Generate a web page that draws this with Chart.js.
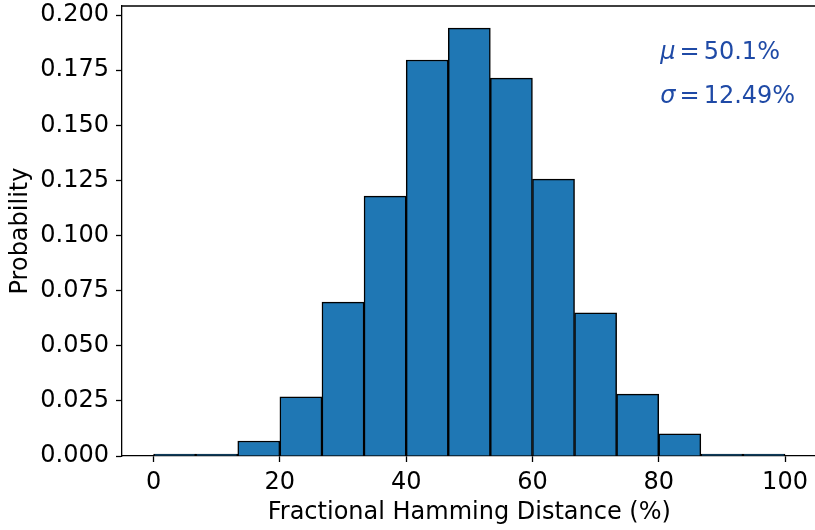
<!DOCTYPE html>
<html>
<head>
<meta charset="utf-8">
<script src="https://cdn.jsdelivr.net/npm/chart.js@4/dist/chart.umd.min.js"></script>
<style>
  html, body { margin: 0; padding: 0; background: #fff; overflow: hidden; }
  #wrap { width: 818px; height: 530px; }
</style>
</head>
<body>
<div id="wrap"><canvas id="hist" width="818" height="530"></canvas></div>
<script>
const binEdges = [0, 6.67, 13.33, 20, 26.67, 33.33, 40, 46.67, 53.33, 60, 66.67, 73.33, 80, 86.67, 93.33, 100]
const probabilities = [0.0003, 0.0008, 0.0068, 0.0268, 0.0698, 0.1179, 0.1796, 0.1941, 0.1714, 0.1256, 0.0649, 0.0281, 0.0100, 0.0009, 0.0002]
const xTicks = [0, 20, 40, 60, 80, 100]
const yTicks = [0, 0.025, 0.05, 0.075, 0.1, 0.125, 0.15, 0.175, 0.2]
const statsLines = [['\u03bc', '50.1%'], ['\u03c3', '12.49%']]

const FONT = 'DejaVu Sans'
const FONT_SIZE = 24
const textBlue = '#1f4aa6'

const points = probabilities.map((p, i) => ({ x: (binEdges[i] + binEdges[i + 1]) / 2, y: p }))

// frame (top + right spines) and mu/sigma annotation
const extras = {
    id: 'extras',
    afterDraw(chart) {
        const { ctx, chartArea: a } = chart
        ctx.save()
        ctx.strokeStyle = '#000'
        ctx.lineWidth = 1.3
        ctx.beginPath()
        ctx.moveTo(a.left, a.top)
        ctx.lineTo(a.right, a.top)
        ctx.lineTo(a.right, a.bottom)
        ctx.stroke()

        ctx.fillStyle = textBlue
        ctx.textBaseline = 'alphabetic'
        const x0 = a.left + 0.775 * (a.right - a.left)
        const baselines = [0.882, 0.784]
        statsLines.forEach((line, i) => {
            const y = a.bottom - baselines[i] * (a.bottom - a.top)
            ctx.font = 'italic ' + FONT_SIZE + 'px "' + FONT + '"'
            ctx.fillText(line[0], x0, y)
            let x = x0 + ctx.measureText(line[0]).width + 4
            ctx.font = FONT_SIZE + 'px "' + FONT + '"'
            ctx.fillText('=', x, y)
            x += ctx.measureText('=').width + 4
            ctx.fillText(line[1], x, y)
        })
        ctx.restore()
    }
}

const tickFont = { family: FONT, size: FONT_SIZE }

function noLabelPadding(s) {
    s.paddingTop = 0
    s.paddingBottom = 0
    s.paddingLeft = 0
    s.paddingRight = 0
}

const chart = new Chart(document.getElementById('hist'), {
    type: 'bar',
    data: {
        datasets: [{
            data: points,
            backgroundColor: '#1f77b4',
            borderColor: '#000',
            borderWidth: 1.5,
            minBarLength: 2,
            barPercentage: 1,
            categoryPercentage: 1
        }]
    },
    plugins: [extras],
    options: {
        responsive: false,
        animation: false,
        layout: { padding: { top: 6, right: 1.4, left: 0, bottom: 0 } },
        plugins: {
            legend: { display: false },
            tooltip: { enabled: false }
        },
        scales: {
            x: {
                type: 'linear',
                min: -5,
                max: 105,
                offset: false,
                afterBuildTicks: axis => { axis.ticks = xTicks.map(v => ({ value: v })) },
                afterFit: s => { s.height = 74; noLabelPadding(s) },
                grid: { offset: false, drawOnChartArea: false, tickLength: 6, tickColor: '#000', tickWidth: 1.3 },
                border: { color: '#000', width: 1.3 },
                ticks: { font: tickFont, color: '#000', padding: 6, maxRotation: 0 },
                title: {
                    display: true,
                    text: 'Fractional Hamming Distance (%)',
                    font: tickFont,
                    color: '#000',
                    padding: { top: 0, bottom: 2.5 }
                }
            },
            y: {
                min: 0,
                max: 0.2041,
                afterBuildTicks: axis => { axis.ticks = yTicks.map(v => ({ value: v })) },
                afterFit: s => { s.width = 122; noLabelPadding(s) },
                grid: { drawOnChartArea: false, tickLength: 6, tickColor: '#000', tickWidth: 1.3 },
                border: { color: '#000', width: 1.3 },
                ticks: { font: tickFont, color: '#000', padding: 7, callback: v => v.toFixed(3) },
                title: {
                    display: true,
                    text: 'Probability',
                    font: tickFont,
                    color: '#000',
                    padding: { top: 6.6, bottom: 0 }
                }
            }
        }
    }
})
</script>
</body>
</html>
